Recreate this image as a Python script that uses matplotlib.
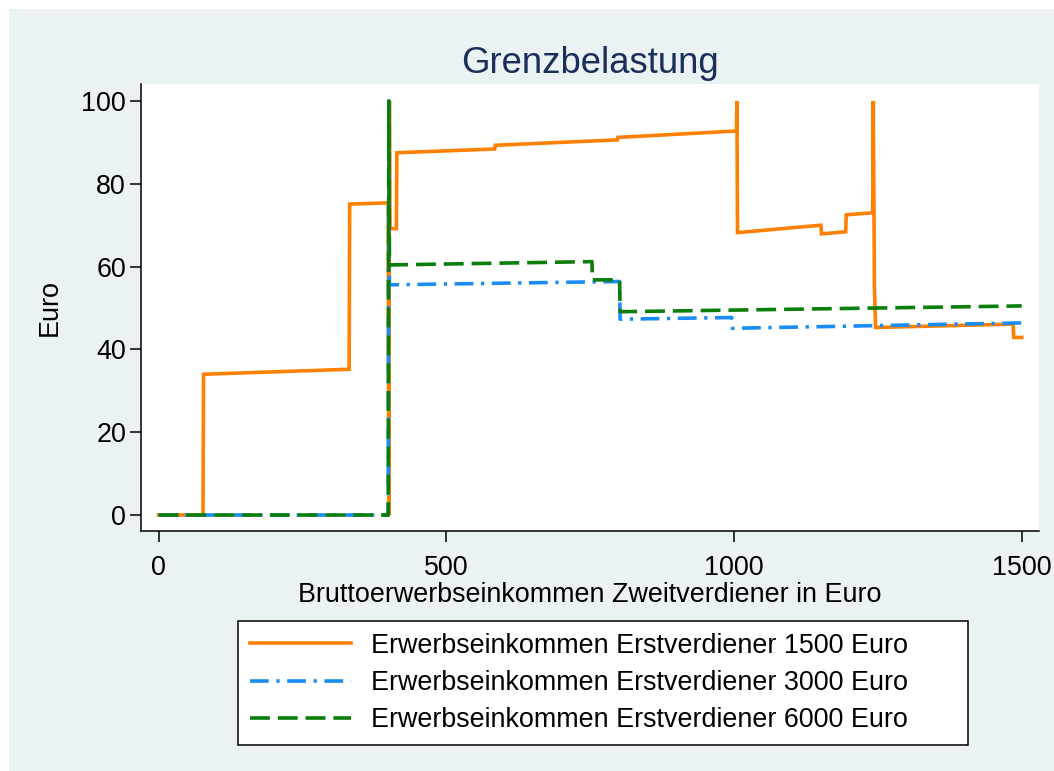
import matplotlib.pyplot as plt
from matplotlib.patches import Rectangle

# Grenzbelastung des Zweitverdieners je nach Einkommen des Erstverdieners
x_1500 = [0, 77, 78, 331, 332, 399, 400, 401, 402, 413, 414, 584, 585, 797, 798,
          1004, 1005, 1006, 1151, 1152, 1194, 1195, 1241, 1242, 1244, 1246,
          1485, 1486, 1500]
y_1500 = [0, 0, 34.0, 35.2, 75.1, 75.4, 0, 100, 69.1, 69.2, 87.5, 88.4, 89.3, 90.6, 91.2,
          92.75, 100, 68.2, 70.0, 67.9, 68.4, 72.5, 73.0, 100, 55, 45.3,
          46.1, 42.9, 42.9]

x_3000 = [0, 399, 400, 401, 801, 802, 996, 997, 1500]
y_3000 = [0, 0, 100, 55.6, 56.4, 47.3, 47.7, 45.1, 46.4]

x_6000 = [0, 399, 400, 401, 753, 754, 801, 802, 1500]
y_6000 = [0, 0, 100, 60.4, 61.2, 56.8, 56.8, 49.1, 50.5]

labels = [
    "Erwerbseinkommen Erstverdiener 1500 Euro",
    "Erwerbseinkommen Erstverdiener 3000 Euro",
    "Erwerbseinkommen Erstverdiener 6000 Euro",
]
x_ticks = [0, 500, 1000, 1500]
y_ticks = [0, 20, 40, 60, 80, 100]

plt.rcParams["font.family"] = ["Liberation Sans", "DejaVu Sans"]
FS = 19.4

W, H = 1054, 771
fig = plt.figure(figsize=(W / 100, H / 100), dpi=100, facecolor="white")
fig.patches.append(Rectangle((9 / W, 0), 1, 1 - 9 / H, transform=fig.transFigure,
                             facecolor="#EAF2F3", edgecolor="none", zorder=-10))

ax = fig.add_axes([141.3 / W, 1 - 531 / H, (1039 - 141.3) / W, (531 - 84) / H])
ax.set_facecolor("white")

ax.plot(x_1500, y_1500, color="#FF8000", lw=2.6, solid_joinstyle="miter", label=labels[0])
ax.plot(x_3000, y_3000, color="#1A8CF5", lw=2.6, linestyle=(0, (5.2, 2.1, 0.9, 2.1)),
        label=labels[1])
ax.plot(x_6000, y_6000, color="#0A7D0A", lw=2.6, linestyle=(0, (5.5, 2.2)), label=labels[2])

ax.set_xlim(-30.2, 1530)
ax.set_ylim(-3.86, 104.1)
ax.set_xticks(x_ticks)
ax.set_yticks(y_ticks)
for side in ("top", "right"):
    ax.spines[side].set_visible(False)
for side in ("left", "bottom"):
    ax.spines[side].set_linewidth(1.1)
ax.tick_params(axis="both", direction="out", length=8, width=1.1, labelsize=FS,
               colors="black")
ax.tick_params(axis="x", pad=9)
ax.tick_params(axis="y", pad=3)

ax.set_xlabel("Bruttoerwerbseinkommen Zweitverdiener in Euro", fontsize=FS, labelpad=1)
ax.set_ylabel("Euro", fontsize=FS, labelpad=13)
ax.set_title("Grenzbelastung", fontsize=26.3, color="#1A2E5A", pad=8)

leg = fig.legend(loc="center", bbox_to_anchor=(238 / W, 1 - 746 / H, 730 / W, 126 / H),
                 mode="expand", fontsize=FS, frameon=True, fancybox=False,
                 edgecolor="black", framealpha=1, handlelength=3.75, handletextpad=0.75,
                 borderpad=0.45, labelspacing=0.42, borderaxespad=0)
leg.get_frame().set_linewidth(1.1)

fig.savefig("out.png", dpi=100, facecolor=fig.get_facecolor())
